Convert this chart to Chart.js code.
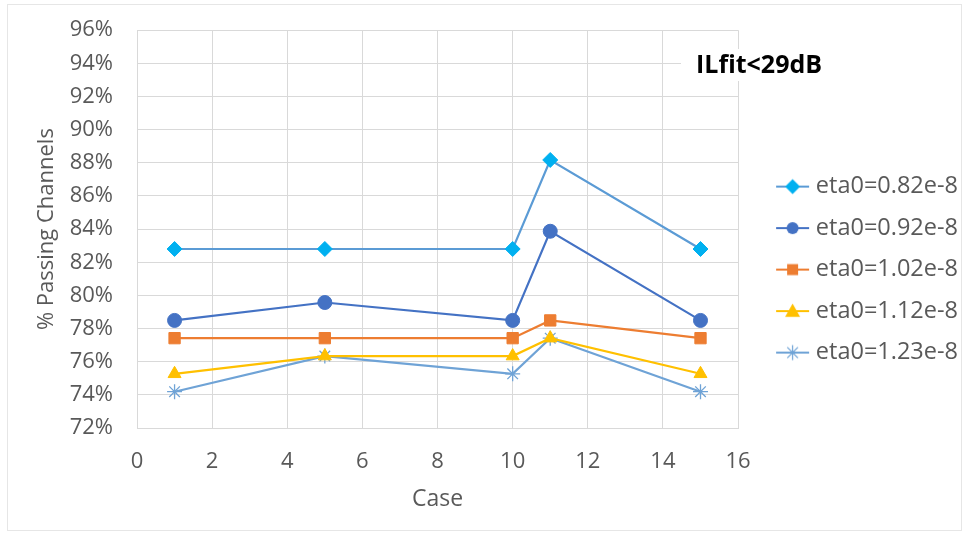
<!DOCTYPE html>
<html>
<head>
<meta charset="utf-8">
<script src="https://cdn.jsdelivr.net/npm/chart.js@4.4.0/dist/chart.umd.min.js"></script>
<style>
  html, body { margin: 0; padding: 0; background: #fff; }
  #wrap { width: 968px; height: 534px; }
</style>
</head>
<body>
<div id="wrap"><canvas id="chart" width="968" height="534"></canvas></div>
<script>
// data (percent of passing channels)
const cases = [1, 5, 10, 11, 15];
const labels = ['eta0=0.82e-8', 'eta0=0.92e-8', 'eta0=1.02e-8', 'eta0=1.12e-8', 'eta0=1.23e-8'];
const eta082 = [82.80, 82.80, 82.80, 88.17, 82.80];
const eta092 = [78.49, 79.57, 78.49, 83.87, 78.49];
const eta102 = [77.42, 77.42, 77.42, 78.49, 77.42];
const eta112 = [75.27, 76.34, 76.34, 77.42, 75.27];
const eta123 = [74.19, 76.34, 75.27, 77.42, 74.19];
const yTicks = [72, 74, 76, 78, 80, 82, 84, 86, 88, 90, 92, 94, 96];
const xTicks = [0, 2, 4, 6, 8, 10, 12, 14, 16];
const noteText = 'ILfit<29dB';

const gray = '#595959';
const fontFam = '"Open Sans", sans-serif';

const looks = [
  { line: '#5B9BD5', mark: '#00B0F0', style: 'rectRot', r: 7.5 },
  { line: '#4472C4', mark: '#4472C4', style: 'circle', r: 7 },
  { line: '#ED7D31', mark: '#ED7D31', style: 'rect', r: 8 },
  { line: '#FFC000', mark: '#FFC000', style: 'triangle', r: 7.5 },
  { line: '#6FA3D6', mark: '#6FA3D6', style: 'star', r: 7.5 }
];

function pts(vals) {
  return vals.map((v, i) => ({ x: cases[i], y: v }));
}

// legend icon: line with the marker on it (line sits in the right part)
function legendIcon(lk) {
  const c = document.createElement('canvas');
  c.width = 60; c.height = 18;
  const g = c.getContext('2d');
  g.strokeStyle = lk.line; g.lineWidth = 2;
  g.beginPath(); g.moveTo(26, 9); g.lineTo(59, 9); g.stroke();
  g.fillStyle = lk.mark; g.strokeStyle = lk.mark;
  const cx = 42.5, cy = 9, r = lk.r;
  g.beginPath();
  if (lk.style === 'rectRot') {
    g.moveTo(cx, cy - r); g.lineTo(cx + r, cy); g.lineTo(cx, cy + r); g.lineTo(cx - r, cy); g.closePath(); g.fill();
  } else if (lk.style === 'circle') {
    g.arc(cx, cy, r - 1, 0, Math.PI * 2); g.fill();
  } else if (lk.style === 'rect') {
    g.rect(cx - 5.5, cy - 5.5, 11, 11); g.fill();
  } else if (lk.style === 'triangle') {
    g.moveTo(cx, cy - r); g.lineTo(cx + r, cy + r * 0.75); g.lineTo(cx - r, cy + r * 0.75); g.closePath(); g.fill();
  } else {
    g.lineWidth = 1.2;
    for (let k = 0; k < 4; k++) {
      const a = k * Math.PI / 4;
      g.moveTo(cx - r * Math.cos(a), cy - r * Math.sin(a));
      g.lineTo(cx + r * Math.cos(a), cy + r * Math.sin(a));
    }
    g.stroke();
  }
  return c;
}

const allSeries = [eta082, eta092, eta102, eta112, eta123];
const datasets = allSeries.map((vals, i) => ({
  label: labels[i],
  data: pts(vals),
  borderColor: looks[i].line,
  backgroundColor: looks[i].mark,
  pointBackgroundColor: looks[i].mark,
  pointBorderColor: looks[i].mark,
  pointStyle: looks[i].style,
  pointRadius: looks[i].r,
  pointBorderWidth: looks[i].style === 'star' ? 1.3 : 1,
  borderWidth: 2.2,
  tension: 0,
  order: i
}));

const notePlugin = {
  id: 'note',
  afterDraw(chart) {
    const ctx = chart.ctx;
    ctx.save();
    // faint outer frame
    ctx.strokeStyle = '#E6E6E6';
    ctx.lineWidth = 1;
    ctx.strokeRect(7.5, 4.5, 954, 526);
    // text box
    ctx.fillStyle = '#fff';
    ctx.fillRect(681, 49, 160, 32);
    ctx.fillStyle = '#000';
    ctx.font = 'bold 25px ' + fontFam;
    ctx.textBaseline = 'middle';
    ctx.fillText(noteText, 696, 66);
    ctx.restore();
  }
};

new Chart(document.getElementById('chart'), {
  type: 'line',
  data: { datasets },
  options: {
    responsive: false,
    animation: false,
    layout: { padding: { left: 28, right: 0, top: 5, bottom: 21 } },
    plugins: {
      tooltip: { enabled: false },
      legend: {
        position: 'right',
        title: { display: true, text: ' ', font: { size: 1 }, padding: { top: 20, bottom: 0 } },
        labels: {
          usePointStyle: true,
          pointStyleWidth: 48,
          color: gray,
          font: { family: fontFam, size: 23.5 },
          padding: 18,
          generateLabels(chart) {
            return chart.data.datasets.map((ds, i) => ({
              text: ds.label,
              pointStyle: legendIcon(looks[i]),
              fontColor: gray,
              lineWidth: 0,
              strokeStyle: 'transparent',
              fillStyle: 'transparent',
              datasetIndex: i,
              hidden: false
            }));
          }
        }
      }
    },
    scales: {
      x: {
        type: 'linear',
        min: 0, max: 16,
        afterBuildTicks(s) { s.ticks = xTicks.map(v => ({ value: v })); },
        afterFit(s) { s.height = 85; },
        grid: { color: '#D9D9D9', drawTicks: false },
        border: { color: '#D9D9D9' },
        ticks: { color: gray, font: { family: fontFam, size: 22 }, padding: 21 },
        title: { display: true, text: 'Case', color: gray, font: { family: fontFam, size: 23 }, padding: { top: 0, bottom: 0 } }
      },
      y: {
        min: 72, max: 96,
        afterBuildTicks(s) { s.ticks = yTicks.map(v => ({ value: v })); },
        afterFit(s) { s.width = 137 - 28; },
        grid: { color: '#D9D9D9', drawTicks: true, tickLength: 7, tickColor: 'rgba(0,0,0,0)' },
        border: { color: '#D9D9D9' },
        ticks: { color: gray, font: { family: fontFam, size: 22 }, padding: 17, callback: v => v + '%' },
        title: { display: true, text: '% Passing Channels', color: gray, font: { family: fontFam, size: 22 }, padding: { top: 6, bottom: 0 } }
      }
    }
  },
  plugins: [notePlugin]
});
</script>
</body>
</html>
